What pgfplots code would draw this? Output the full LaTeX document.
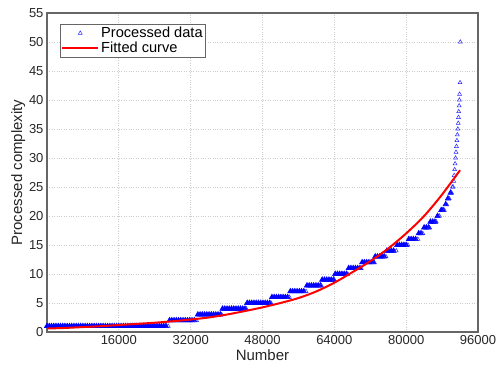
\documentclass[border=0pt]{standalone}
\usepackage{pgfplots}
\pgfplotsset{compat=1.18}
\usepackage{fontspec}
\setmainfont{Liberation Sans}
\pgfplotsset{
  markleg/.style={legend image code/.code={\draw[##1] plot coordinates {(18pt,0pt)};}},
  lineleg/.style={legend image code/.code={\draw[##1] (0pt,0pt) -- (36pt,0pt);}},
}
\begin{document}
\begin{tikzpicture}
\begin{axis}[
  scale only axis,
  width=431pt, height=319pt,
  xmin=0, xmax=96000, ymin=0, ymax=55,
  xtick={16000,32000,48000,64000,80000,96000},
  ytick={0,5,10,15,20,25,30,35,40,45,50,55},
  scaled x ticks=false,
  clip mode=individual,
  /pgf/number format/set thousands separator={},
  /pgf/number format/assume math mode=true,
  ticklabel style={font=\fontsize{13}{15}\selectfont, text=black!85},
  label style={font=\fontsize{15}{18}\selectfont, text=black!85},
  xlabel={Number},
  ylabel={Processed complexity},
  xlabel style={yshift=2pt},
  ylabel style={yshift=-3pt},
  grid=major,
  major grid style={dotted, gray!40, line width=0.7pt},
  tick style={draw=none},
  axis line style={gray!80!black, line width=1.1pt},
  legend style={at={(0.03,0.966)}, anchor=north west, draw=gray!80!black, line width=0.6pt,
    font=\fontsize{14.6}{17}\selectfont, inner sep=1pt, row sep=-1pt, cells={anchor=west}},
  legend cell align=left,
]
% dense integer levels (appear as solid bands)
\addplot[only marks, mark=triangle*, mark size=3.2pt, mark options={draw=blue, fill=blue, line width=0.4pt}, forget plot]
coordinates {
(0,1)(500,1)(1000,1)(1500,1)(2000,1)(2500,1)(3000,1)(3500,1)(4000,1)(4500,1)
(5000,1)(5500,1)(6000,1)(6500,1)(7000,1)(7500,1)(8000,1)(8500,1)(9000,1)(9500,1)
(10000,1)(10500,1)(11000,1)(11500,1)(12000,1)(12500,1)(13000,1)(13500,1)(14000,1)(14500,1)
(15000,1)(15500,1)(16000,1)(16500,1)(17000,1)(17500,1)(18000,1)(18500,1)(19000,1)(19500,1)
(20000,1)(20500,1)(21000,1)(21500,1)(22000,1)(22500,1)(23000,1)(23500,1)(24000,1)(24500,1)
(25000,1)(25500,1)(26000,1)(26500,1)
(27300,2)(27800,2)(28300,2)(28800,2)(29300,2)(29800,2)(30300,2)(30800,2)(31300,2)(31800,2)(32300,2)(32800,2)
(33600,3)(34100,3)(34600,3)(35100,3)(35600,3)(36100,3)(36600,3)(37100,3)(37600,3)(38100,3)(38600,3)
(39100,4)(39600,4)(40100,4)(40600,4)(41100,4)(41600,4)(42100,4)(42600,4)(43100,4)(43600,4)(44100,4)
(44600,5)(45100,5)(45600,5)(46100,5)(46600,5)(47100,5)(47600,5)(48100,5)(48600,5)(49100,5)(49600,5)
(50100,6)(50600,6)(51100,6)(51600,6)(52100,6)(52600,6)(53100,6)(53600,6)
(54200,7)(54700,7)(55200,7)(55700,7)(56200,7)(56700,7)(57200,7)
(57900,8)(58400,8)(58900,8)(59400,8)(59900,8)(60400,8)(60900,8)
(61300,9)(61800,9)(62300,9)(62800,9)(63300,9)(63800,9)
(64200,10)(64700,10)(65200,10)(65700,10)(66200,10)(66700,10)
(67200,11)(67700,11)(68200,11)(68700,11)(69200,11)(69700,11)
(70200,12)(70700,12)(71200,12)(71700,12)(72200,12)(72700,12)
(73100,13)(73600,13)(74100,13)(74600,13)(75100,13)
(75700,14)(76200,14)(76700,14)(77200,14)
(78000,15)(78500,15)(79000,15)(79500,15)(80000,15)
(80600,16)(81100,16)(81600,16)(82100,16)
(82800,17)(83300,17)
(84000,18)(84500,18)(85000,18)
(85400,19)(85900,19)(86400,19)
(87000,20)
(87800,21)(88200,21)
(88800,22)
(89300,23)
(89900,24)
};
% last point of each level and the sparse top values (open triangles)
\addplot[only marks, mark=triangle, mark size=2.3pt, mark options={draw=blue!85, fill=none, line width=0.5pt}, markleg]
coordinates {
(27000,1)(33300,2)(38900,3)(44400,4)(49900,5)(54000,6)(57700,7)(61100,8)(64000,9)
(67000,10)(70000,11)(72900,12)(75500,13)(77800,14)(80400,15)(82600,16)(83700,17)
(85200,18)(86700,19)(87400,20)(88500,21)(89000,22)(89600,23)(90100,24)
(90300,25)(90450,25)
(90600,26)(90700,27)(90800,28)(90900,29)(91000,30)(91100,31)(91200,32)(91300,33)
(91400,34)(91500,35)(91600,36)(91650,37)(91700,38)(91800,39)(91850,40)(91900,41)
(92000,43)(92050,50)
};
\addlegendentry{Processed data}
\addplot[red, line width=2pt, smooth, lineleg]
coordinates {
(0,0.6)(4000,0.7)(8000,0.85)(12000,1.0)(16000,1.2)(20000,1.4)(24000,1.6)(28000,1.85)
(32000,2.15)(36000,2.5)(40000,3.0)(44000,3.6)(48000,4.25)(52000,5.0)(56000,5.85)
(60000,7.0)(64000,8.5)(68000,10.3)(72000,12.2)(76000,14.4)(80000,17.0)(84000,20.0)
(88000,23.7)(92000,27.9)
};
\addlegendentry{Fitted curve}
\end{axis}
\path (current axis.south west) ++(-47pt,-40pt) coordinate (bbA);
\path (current axis.north east) ++(24pt,13pt) coordinate (bbB);
\path (bbA) rectangle (bbB);
\end{tikzpicture}
\end{document}
